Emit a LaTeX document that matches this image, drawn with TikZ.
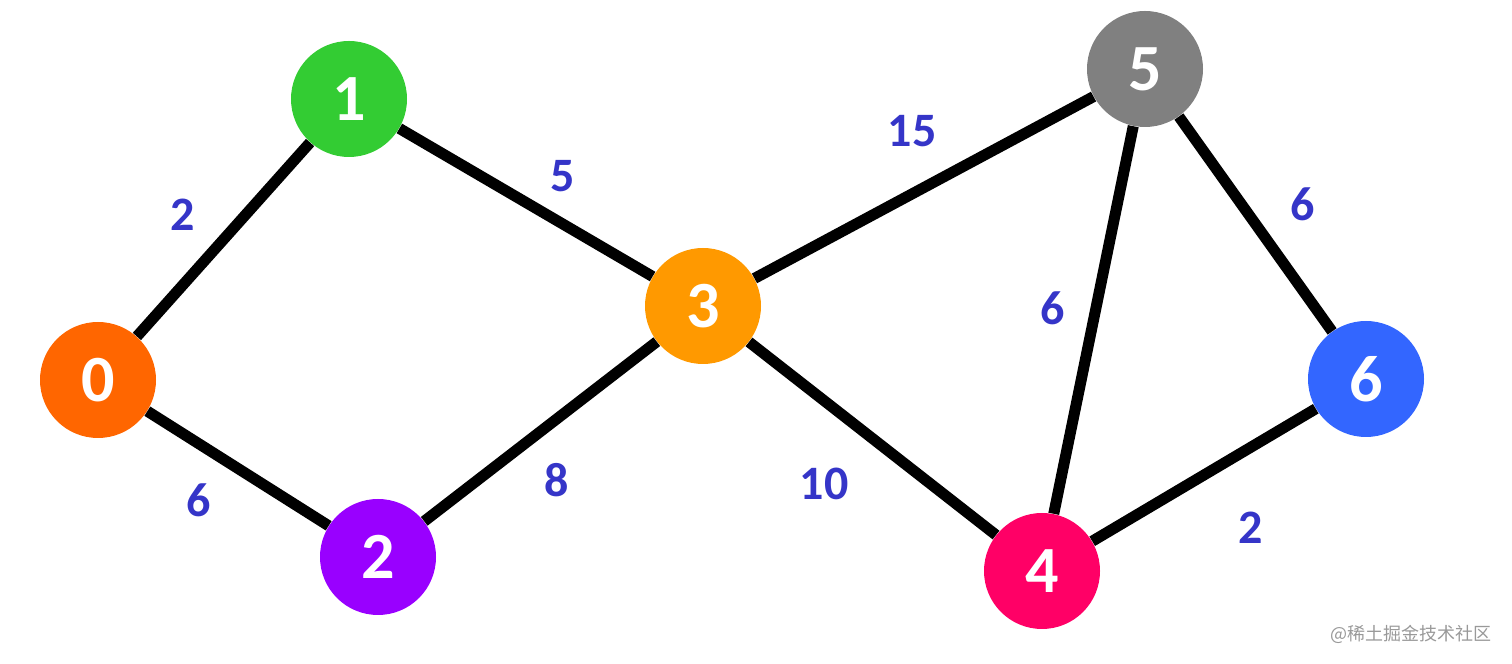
\documentclass[tikz,border=0pt]{standalone}
\usepackage{fontspec}
\setmainfont{Carlito}
\newfontfamily\cjk{Noto Sans CJK SC}
\definecolor{c0}{HTML}{FF6600}
\definecolor{c1}{HTML}{33CC33}
\definecolor{c2}{HTML}{9900FF}
\definecolor{c3}{HTML}{FF9900}
\definecolor{c4}{HTML}{FF0066}
\definecolor{c5}{HTML}{808080}
\definecolor{c6}{HTML}{3366FF}
\definecolor{wcol}{HTML}{3535C8}
\tikzset{
  vtx/.style={circle, minimum size=58pt, inner sep=0pt, text=white, font=\fontsize{33}{33}\selectfont\bfseries},
  wlab/.style={text=wcol, font=\fontsize{24}{24}\selectfont\bfseries, inner sep=0pt},
  edge/.style={line width=5.5pt, black}
}
\begin{document}
\begin{tikzpicture}[x=1pt,y=1pt]
\useasboundingbox (0,0) rectangle (756,332);
\node[vtx, fill=c0] (n0) at (49,142) {0};
\node[vtx, fill=c1] (n1) at (174.5,282.5) {1};
\node[vtx, fill=c2] (n2) at (189,53.5) {2};
\node[vtx, fill=c3] (n3) at (351.5,179) {3};
\node[vtx, fill=c4] (n4) at (521,46.5) {4};
\node[vtx, fill=c5] (n5) at (572.5,297.5) {5};
\node[vtx, fill=c6] (n6) at (683,142.5) {6};
\draw[edge] (n0) -- (n1);
\draw[edge] (n0) -- (n2);
\draw[edge] (n1) -- (n3);
\draw[edge] (n2) -- (n3);
\draw[edge] (n3) -- (n5);
\draw[edge] (n3) -- (n4);
\draw[edge] (n5) -- (n4);
\draw[edge] (n5) -- (n6);
\draw[edge] (n4) -- (n6);
\node[wlab] (w01) at (91.5,224.5) {2};
\node[wlab] (w13) at (281.5,244) {5};
\node[wlab] (w02) at (99.5,82) {6};
\node[wlab] (w23) at (278.5,92) {8};
\node[wlab] (w35) at (456,266.5) {15};
\node[wlab] (w54) at (526.5,178) {6};
\node[wlab] (w34) at (412,90) {10};
\node[wlab] (w56) at (651.5,230) {6};
\node[wlab] (w46) at (625.5,68) {2};
\node[anchor=east, text=black!40, font=\cjk\fontsize{9}{9}\selectfont, inner sep=0pt] (wm) at (746,15) {@稀土掘金技术社区};
\end{tikzpicture}
\end{document}
